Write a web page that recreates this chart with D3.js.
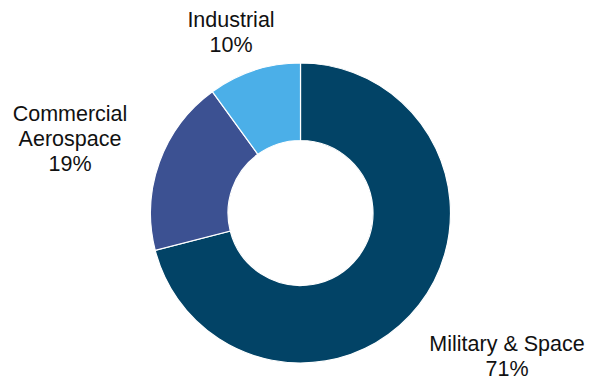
<!DOCTYPE html>
<html>
<head>
<meta charset="utf-8">
<script src="https://cdn.jsdelivr.net/npm/d3@7"></script>
<style>
  body { margin: 0; background: #fff; }
  text { font-family: "Liberation Sans", Arial, sans-serif; }
</style>
</head>
<body>
<div class="mainCont"></div>
<script>
var categories = ["Military & Space", "Commercial Aerospace", "Industrial"];
var values = [71, 19, 10];
var labelLines = [["Military & Space", "71%"], ["Commercial", "Aerospace", "19%"], ["Industrial", "10%"]];

var width = 590,
    height = 380,
    cx = 300.5,
    cy = 213,
    radius = 150,
    innerRadius = 72.5;

// label anchor (centre x, first baseline y) for each slice
var labelPos = [[507, 350.5], [70, 121], [231, 27]];

var color = d3.scaleOrdinal()
    .domain(categories)
    .range(["#024366", "#3c5192", "#4bafe8"]);

var arc = d3.arc()
    .outerRadius(radius)
    .innerRadius(innerRadius);

var pie = d3.pie()
    .sort(null)
    .value(function(d, i) { return values[i]; });

var svg = d3.select(".mainCont").append("svg")
    .attr("width", width)
    .attr("height", height);

var g = svg.append("g")
    .attr("transform", "translate(" + cx + "," + cy + ")");

g.selectAll(".arc")
    .data(pie(categories))
    .enter().append("path")
    .attr("class", "arc")
    .attr("d", arc)
    .style("fill", function(d) { return color(d.data); })
    .style("stroke", "#fff")
    .style("stroke-width", 1.2);

// labels
var lbl = svg.selectAll(".lbl")
    .data(categories)
    .enter().append("text")
    .attr("class", "lbl")
    .attr("text-anchor", "middle")
    .style("font-size", "21.5px")
    .style("fill", "#111");

lbl.each(function(d, i) {
    var t = d3.select(this);
    labelLines[i].forEach(function(line, j) {
        t.append("tspan")
            .attr("x", labelPos[i][0])
            .attr("y", labelPos[i][1] + j * 25)
            .text(line);
    });
});
</script>
</body>
</html>
